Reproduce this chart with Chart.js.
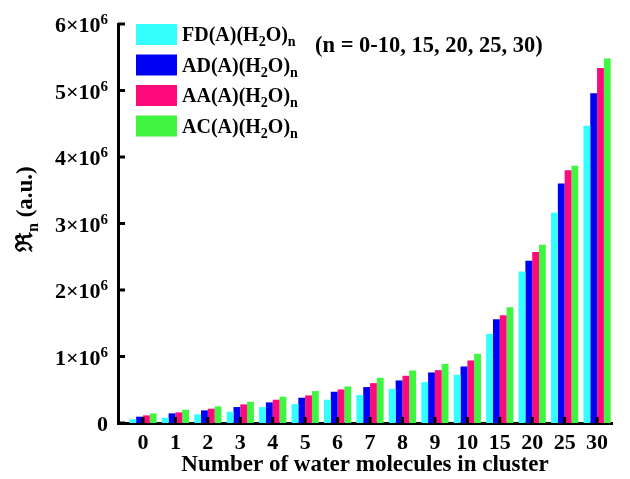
<!DOCTYPE html>
<html>
<head>
<meta charset="utf-8">
<script src="https://cdn.jsdelivr.net/npm/chart.js@4.4.1/dist/chart.umd.min.js"></script>
<style>
  html, body { margin: 0; padding: 0; background: #fff; }
  #wrap { width: 630px; height: 479px; }
</style>
</head>
<body>
<div id="wrap"><canvas id="chart"></canvas></div>
<script>
const clusterSizes = ['0', '1', '2', '3', '4', '5', '6', '7', '8', '9', '10', '15', '20', '25', '30'];
const seriesNames = ['FD(A)(H_2O)_n', 'AD(A)(H_2O)_n', 'AA(A)(H_2O)_n', 'AC(A)(H_2O)_n'];
const seriesColors = ['#33ffff', '#0000f5', '#ff0a7a', '#40f540'];
const fdValues = [56000, 80000, 130000, 170000, 240000, 285000, 350000, 420000, 515000, 615000, 725000, 1340000, 2280000, 3160000, 4470000];
const adValues = [95000, 145000, 190000, 240000, 310000, 380000, 470000, 540000, 640000, 760000, 850000, 1560000, 2440000, 3600000, 4960000];
const aaValues = [115000, 160000, 215000, 280000, 350000, 415000, 505000, 600000, 710000, 795000, 940000, 1620000, 2570000, 3800000, 5340000];
const acValues = [145000, 200000, 250000, 320000, 395000, 480000, 550000, 680000, 790000, 890000, 1040000, 1740000, 2680000, 3870000, 5480000];
const allSeries = [fdValues, adValues, aaValues, acValues];

const serif = '"Liberation Serif", "Times New Roman", serif';

// split "H_2O_n" into normal / subscript runs
function richRuns(text) {
    const runs = [];
    let cur = '';
    for (let i = 0; i < text.length; i++) {
        if (text[i] === '_') {
            if (cur) runs.push({ t: cur, sub: false });
            cur = '';
            runs.push({ t: text[i + 1], sub: true });
            i++;
        } else {
            cur += text[i];
        }
    }
    if (cur) runs.push({ t: cur, sub: false });
    return runs;
}

function drawRich(ctx, text, x, y, size) {
    const subSize = Math.round(size * 0.7);
    let px = x;
    richRuns(text).forEach(r => {
        ctx.font = `bold ${r.sub ? subSize : size}px ${serif}`;
        ctx.fillText(r.t, px, r.sub ? y + size * 0.25 : y);
        px += ctx.measureText(r.t).width;
    });
}

const insideTicks = {
    id: 'insideTicks',
    afterDatasetsDraw(chart) {
        const { ctx, chartArea, scales: { x, y } } = chart;
        ctx.save();
        ctx.fillStyle = '#000';
        x.ticks.forEach(t => {
            const px = x.getPixelForValue(t.value);
            ctx.fillRect(px - 1.5, chartArea.bottom - 6, 3, 6);
        });
        y.ticks.forEach(t => {
            const py = y.getPixelForValue(t.value);
            ctx.fillRect(chartArea.left, py - 1.5, 7, 3);
        });
        ctx.restore();
    }
};

// y tick labels with a real superscript exponent
const yLabels = {
    id: 'yLabels',
    afterDraw(chart) {
        const { ctx, chartArea, scales: { y } } = chart;
        const right = chartArea.left - 10;
        ctx.save();
        ctx.fillStyle = '#000';
        ctx.textBaseline = 'alphabetic';
        ctx.textAlign = 'left';
        y.ticks.forEach(t => {
            const py = y.getPixelForValue(t.value) + 8;
            if (t.value === 0) {
                ctx.font = `bold 22px ${serif}`;
                ctx.fillText('0', right - ctx.measureText('0').width, py);
                return;
            }
            const base = (t.value / 1000000) + '\u00D710';
            ctx.font = `bold 15px ${serif}`;
            const wSup = ctx.measureText('6').width;
            ctx.font = `bold 22px ${serif}`;
            const wBase = ctx.measureText(base).width;
            const x0 = right - wSup - wBase;
            ctx.fillText(base, x0, py);
            ctx.font = `bold 15px ${serif}`;
            ctx.fillText('6', x0 + wBase, py - 8);
        });
        ctx.restore();
    }
};

const annotations = {
    id: 'annotations',
    afterDraw(chart) {
        const { ctx, chartArea } = chart;
        ctx.save();
        ctx.fillStyle = '#000';
        ctx.textBaseline = 'alphabetic';
        // legend inside plot
        chart.data.datasets.forEach((ds, i) => {
            const top = chartArea.top + i * 30.5;
            ctx.fillStyle = ds.backgroundColor;
            ctx.fillRect(chartArea.left + 18, top, 41, 21);
            ctx.fillStyle = '#000';
            drawRich(ctx, seriesNames[i], chartArea.left + 64, top + 17, 20);
        });
        // note
        ctx.font = `bold 22.5px ${serif}`;
        ctx.fillText('(n = 0-10, 15, 20, 25, 30)', 315, 52);
        // y title
        ctx.translate(32, 252);
        ctx.rotate(-Math.PI / 2);
        drawRich(ctx, '\u211C_n (a.u.)', 0, 0, 23);
        ctx.restore();
    }
};

new Chart(document.getElementById('chart'), {
    type: 'bar',
    data: {
        datasets: allSeries.map((vals, i) => ({
            label: seriesNames[i],
            data: vals.map((v, k) => ({ x: k, y: v })),
            backgroundColor: seriesColors[i],
            borderWidth: 0,
            categoryPercentage: 0.84,
            barPercentage: 1
        }))
    },
    options: {
        responsive: true,
        maintainAspectRatio: false,
        animation: false,
        devicePixelRatio: 1,
        layout: { padding: { top: 24, right: 18, left: 0, bottom: 0 } },
        plugins: { legend: { display: false }, tooltip: { enabled: false } },
        scales: {
            x: {
                type: 'linear',
                offset: false,
                min: -0.77,
                max: 14.46,
                grid: { display: false, drawTicks: false },
                border: { display: true, color: '#000', width: 3 },
                ticks: {
                    stepSize: 1,
                    includeBounds: false,
                    autoSkip: false,
                    maxRotation: 0,
                    padding: 7,
                    color: '#000',
                    font: { family: serif, size: 22, weight: 'bold' },
                    callback: v => clusterSizes[v] ?? ''
                },
                title: {
                    display: true,
                    text: 'Number of water molecules in cluster',
                    color: '#000',
                    padding: { top: 0, bottom: 0 },
                    font: { family: serif, size: 23, weight: 'bold' }
                },
                afterFit: s => { s.height = 56; }
            },
            y: {
                min: 0,
                max: 6000000,
                grid: { display: false, drawTicks: false },
                border: { display: true, color: '#000', width: 3 },
                ticks: { stepSize: 1000000, display: false },
                afterFit: s => { s.width = 118; }
            }
        }
    },
    plugins: [insideTicks, yLabels, annotations]
});
</script>
</body>
</html>
